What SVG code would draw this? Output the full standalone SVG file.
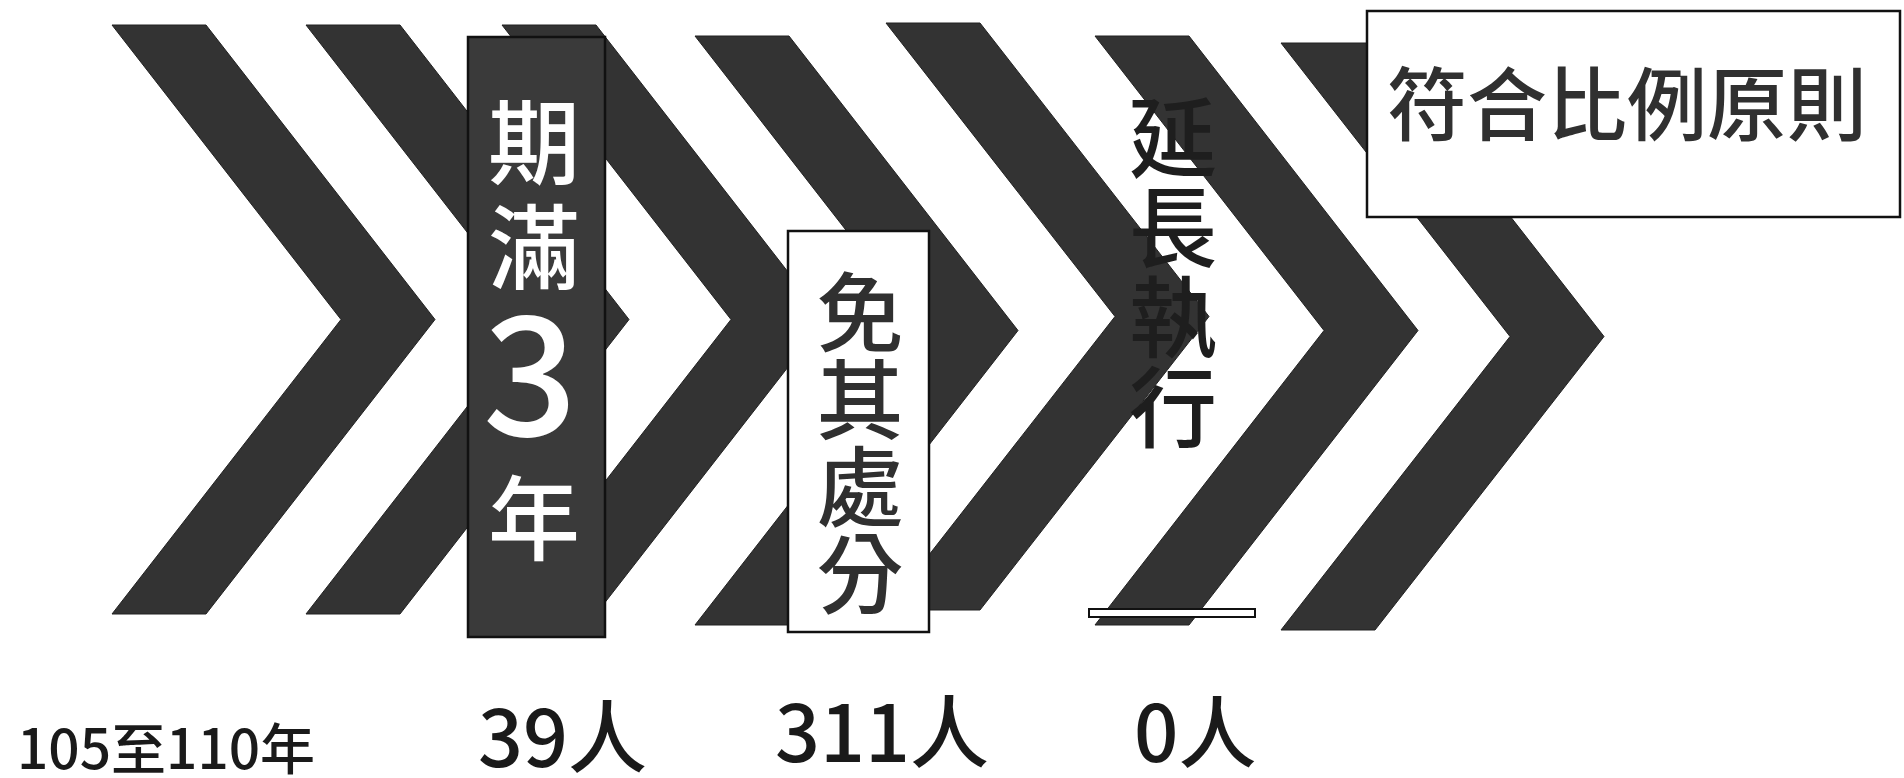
<svg xmlns="http://www.w3.org/2000/svg" width="1904" height="778" viewBox="0 0 1904 778">
<style>
.chev{fill:#333333;stroke:#222222;stroke-width:1}
.cjk{font-family:"Noto Sans CJK TC","Noto Sans CJK SC","Noto Sans CJK JP",sans-serif}
.wt{fill:#ffffff;font-weight:500}
.dk{fill:#303030;font-weight:500}
.lbl{fill:#1a1a1a;font-weight:500}
</style>
<rect width="1904" height="778" fill="#ffffff"/>
<g id="chevrons">
<polygon id="chev-a" class="chev" points="112,25 206,25 435,319.5 206,614 112,614 341,319.5"/>
<polygon id="chev-b" class="chev" points="306,25 400,25 629,319.5 400,614 306,614 535,319.5"/>
<polygon id="chev-c" class="chev" points="502,25 596,25 825,319.5 596,614 502,614 731,319.5"/>
<polygon id="chev-d" class="chev" points="695,36 789,36 1018,330.5 789,625 695,625 924,330.5"/>
<polygon id="chev-e" class="chev" points="886,23 980,23 1209,316.5 980,610 886,610 1115,316.5"/>
<polygon id="chev-f" class="chev" points="1095,36 1189,36 1418,330.5 1189,625 1095,625 1324,330.5"/>
<polygon id="chev-g" class="chev" points="1281,43 1375,43 1604,336.5 1375,630 1281,630 1510,336.5"/>
</g>
<g id="node-qiman">
<rect x="468" y="37" width="137" height="600" fill="#3a3a3a" stroke="#111111" stroke-width="2.5"/>
<text class="cjk wt" text-anchor="middle" font-size="92"><tspan x="534" y="177">期</tspan><tspan x="534" y="282">滿</tspan><tspan x="534" y="553">年</tspan></text>
<text class="cjk wt" text-anchor="middle" font-size="166" font-weight="400" x="530" y="436">3</text>
</g>
<g id="node-mian">
<rect x="788" y="231" width="141" height="401" fill="#ffffff" stroke="#111111" stroke-width="2.5"/>
<text class="cjk dk" text-anchor="middle" font-size="87"><tspan x="860" y="346">免</tspan><tspan x="860" y="433">其</tspan><tspan x="860" y="520">處</tspan><tspan x="860" y="607">分</tspan></text>
</g>
<g id="node-yanchang">
<text class="cjk" fill="#1e1e1e" font-weight="500" text-anchor="middle" font-size="88"><tspan x="1173" y="170">延</tspan><tspan x="1173" y="260">長</tspan><tspan x="1173" y="350">執</tspan><tspan x="1173" y="440">行</tspan></text>
<rect x="1089" y="609" width="166" height="8" fill="#ffffff" stroke="#111111" stroke-width="2"/>
</g>
<g id="node-fuhe">
<rect x="1367" y="11" width="533" height="206" fill="#ffffff" stroke="#111111" stroke-width="2.5"/>
<text class="cjk dk" text-anchor="middle" font-size="80" x="1627" y="134">符合比例原則</text>
</g>
<g id="labels">
<text class="cjk lbl" font-size="55" x="17" y="769">105至110年</text>
<text class="cjk lbl" font-size="79" x="478" y="767">39人</text>
<text class="cjk lbl" font-size="79" x="775" y="762">311人</text>
<text class="cjk lbl" font-size="78" x="1134" y="762">0人</text>
</g>
</svg>
